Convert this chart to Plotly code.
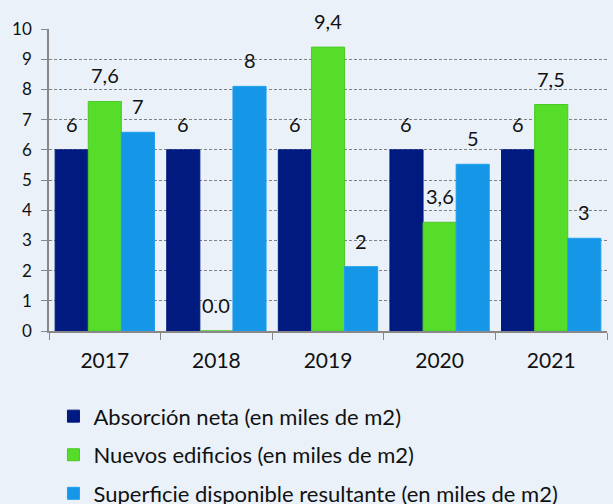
import plotly.graph_objects as go

years = ["2017", "2018", "2019", "2020", "2021"]
absorcion = [6, 6, 6, 6, 6]
nuevos = [7.6, 0.0, 9.4, 3.6, 7.5]
superficie = [6.58, 8.1, 2.13, 5.52, 3.07]

absorcion_labels = ["6", "6", "6", "6", "6"]
nuevos_labels = ["7,6", "0.0", "9,4", "3,6", "7,5"]
superficie_labels = ["7", "8", "2", "5", "3"]

names = ["Absorción neta (en miles de m2)",
         "Nuevos edificios (en miles de m2)",
         "Superficie disponible resultante (en miles de m2)"]
colors = ["#001A80", "#55DD2A", "#1596E6"]
lines = ["#001A80", "#4CC825", "#1FA0EE"]
bg = "#EAF1F9"
font = "Lato, 'Open Sans', sans-serif"
bargap = 0.11

series = [absorcion, nuevos, superficie]
series_labels = [absorcion_labels, nuevos_labels, superficie_labels]

fig = go.Figure()
for vals, name, c, lc in zip(series, names, colors, lines):
    fig.add_trace(go.Bar(
        x=years, y=vals, name=name,
        marker=dict(color=c, line=dict(color=lc, width=1)),
        legendgroup=name,
    ))

# value labels above each bar (positioned from the data through the category axis)
n = len(series)
bw = (1 - bargap) / n
for j, (vals, labels) in enumerate(zip(series, series_labels)):
    for i, (v, t) in enumerate(zip(vals, labels)):
        fig.add_annotation(
            x=i + (j - (n - 1) / 2) * bw, y=v, xref="x", yref="y",
            text=t, showarrow=False, yanchor="bottom", yshift=12,
            font=dict(size=20, family=font, color="#111111"),
        )

fig.update_layout(
    width=613, height=504,
    paper_bgcolor=bg, plot_bgcolor=bg,
    barmode="group", bargap=bargap, bargroupgap=0,
    margin=dict(l=49, r=6, t=29, b=173, autoexpand=False),
    font=dict(family=font, color="#111111"),
    showlegend=True,
    legend=dict(
        orientation="v", x=0.008, xanchor="left", y=-0.213, yanchor="top",
        font=dict(size=22, family=font, color="#111111"),
        bgcolor="rgba(0,0,0,0)", tracegroupgap=7, itemwidth=30,
        traceorder="grouped",
    ),
)
fig.update_xaxes(
    type="category", tickson="boundaries", ticks="outside", ticklen=7,
    tickcolor="#888888", showline=True, linecolor="#888888", linewidth=1.5,
    showgrid=False, automargin=False, ticklabelstandoff=10,
    tickfont=dict(size=21, family=font, color="#111111"),
)
fig.update_yaxes(
    range=[0, 10], dtick=1, ticks="outside", ticklen=6, tickcolor="#888888",
    showline=True, linecolor="#888888", linewidth=1.5,
    showgrid=True, gridcolor="#808080", griddash="3px,2px", gridwidth=1,
    zeroline=False, ticklabelstandoff=6, automargin=False,
    tickfont=dict(size=17, family=font, color="#111111"),
)

fig.write_html("out.html", config={"displayModeBar": False},
               post_script="document.body.style.margin='0';")
